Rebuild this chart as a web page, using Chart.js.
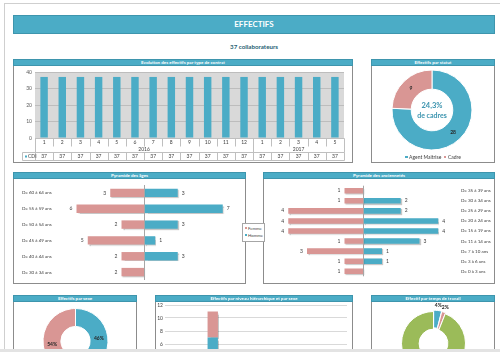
<!DOCTYPE html>
<html><head><meta charset="utf-8">
<script src="https://cdn.jsdelivr.net/npm/chart.js@4.4.1/dist/chart.umd.min.js"></script>
<style>
body{margin:0;width:500px;height:352px;overflow:hidden;position:relative;background:#fff;font-family:Lato,'Liberation Sans',sans-serif;}
.frame{position:absolute;left:4px;top:3px;width:496px;height:349px;border-top:1px solid #cfcfcf;border-left:1px solid #cfcfcf;box-sizing:border-box}
.header{position:absolute;left:13px;top:15px;width:482px;height:19px;background:#4BACC6;border:1px solid #3E95AD;box-sizing:border-box;color:#fff;font-weight:bold;font-size:8px;line-height:17px;text-align:center}
.sub{position:absolute;left:13px;width:482px;top:43px;font-size:6.2px;font-weight:bold;color:#1F5F73;text-align:center;line-height:8px}
.panel{position:absolute;border:1px solid #8C8C8C;box-sizing:border-box;background:#fff}
.ttl{position:absolute;left:-1px;right:-1px;top:-1px;height:7px;background:#4BACC6;border:1px solid #3E95AD;box-sizing:border-box;color:#fff;font-size:4.5px;font-weight:bold;line-height:5px;text-align:center;z-index:3;white-space:nowrap}
canvas{position:absolute;z-index:1}
.lgd{position:absolute;z-index:4;font-size:5px;color:#404040;white-space:nowrap}
.sq{display:inline-block;width:2.5px;height:2.5px;margin-right:1.5px;vertical-align:middle;position:relative;top:-0.5px}
.ctr{position:absolute;z-index:2;color:#3A93AE;font-weight:bold;text-align:center;white-space:nowrap}
.strip{position:absolute;left:0;top:349px;width:500px;height:3px;background:#E3E3E3;z-index:5}
</style></head>
<body>
<div class="frame"></div>
<div class="header">EFFECTIFS</div>
<div class="sub">37 collaborateurs</div>

<div class="panel" style="left:13px;top:59px;width:340px;height:104px"><div class="ttl">Evolution des effectifs par type de contrat</div></div>
<div class="panel" style="left:371px;top:59px;width:124px;height:104px"><div class="ttl">Effectifs par statut</div></div>
<div class="panel" style="left:13px;top:172px;width:233px;height:112px"><div class="ttl">Pyramide des âges</div></div>
<div class="panel" style="left:263px;top:172px;width:232px;height:112px"><div class="ttl">Pyramide des anciennetés</div></div>
<div class="panel" style="left:13px;top:295px;width:124px;height:120px"><div class="ttl">Effectifs par sexe</div></div>
<div class="panel" style="left:155px;top:295px;width:198px;height:120px"><div class="ttl">Effectifs par niveau hiérarchique et par sexe</div></div>
<div class="panel" style="left:371px;top:295px;width:124px;height:120px"><div class="ttl">Effectif par temps de travail</div></div>

<canvas id="c1" width="338" height="96" style="left:14px;top:66px"></canvas>
<canvas id="c2" width="122" height="96" style="left:372px;top:66px"></canvas>
<canvas id="c3" width="230" height="104" style="left:14px;top:179px"></canvas>
<canvas id="c4" width="230" height="104" style="left:264px;top:179px"></canvas>
<canvas id="c5" width="122" height="100" style="left:14px;top:302px"></canvas>
<canvas id="c6" width="196" height="100" style="left:156px;top:300px"></canvas>
<canvas id="c7" width="122" height="100" style="left:372px;top:302px"></canvas>

<div class="ctr" style="left:392px;width:80px;top:101px;font-size:7.5px;line-height:9px">24,3%</div>
<div class="ctr" style="left:392px;width:80px;top:111px;font-size:7px;line-height:9px">de cadres</div>
<div class="lgd" style="left:372px;width:122px;top:154px;text-align:center;line-height:6px"><span class="sq" style="background:#4BACC6"></span>Agent Maitrise&nbsp;&nbsp;<span class="sq" style="background:#D99694"></span>Cadre</div>
<div class="lgd" style="left:242px;top:223px;width:23px;height:19px;background:#fff;border:1px solid #A6A6A6;box-sizing:border-box;font-size:4.3px;line-height:8px;padding-left:1.5px;padding-top:1px"><div style="line-height:8px"><span class="sq" style="background:#D99694;width:2px;height:2px"></span>Femme</div><div style="line-height:8px;margin-top:-1px"><span class="sq" style="background:#4BACC6;width:2px;height:2px"></span>Homme</div></div>
<div class="strip"></div>

<script>
// ---------- DATA ----------
const monthLabels = ['1','2','3','4','5','6','7','8','9','10','11','12','1','2','3','4','5'];
const yearLabels = ['2016','2016','2016','2016','2016','2016','2016','2016','2016','2016','2016','2016','2017','2017','2017','2017','2017'];
const cdiCounts = [37,37,37,37,37,37,37,37,37,37,37,37,37,37,37,37,37];

const statutLabels = ['Agent Maitrise','Cadre'];
const statutCounts = [28, 9];

const ageLabels = ['De 60 à 64 ans','De 55 à 59 ans','De 50 à 54 ans','De 45 à 49 ans','De 40 à 44 ans','De 30 à 34 ans'];
const ageFemme = [3, 6, 2, 5, 2, 2];
const ageHomme = [3, 7, 3, 1, 3, 0];

const ancLabels = ['De 35 à 39 ans','De 30 à 34 ans','De 25 à 29 ans','De 20 à 24 ans','De 15 à 19 ans','De 11 à 14 ans','De 7 à 10 ans','De 3 à 6 ans','De 0 à 3 ans'];
const ancFemme = [1, 1, 4, 4, 4, 1, 3, 1, 1];
const ancHomme = [0, 2, 2, 4, 4, 3, 1, 1, 0];

const sexeLabels = ['Homme','Femme'];
const sexePct = [46, 54];

const niveauLabels = ['Niveau 1','Niveau 2'];
const niveauHomme = [7, null];
const niveauFemme = [4, null];

const tempsLabels = ['Temps partiel 1','Temps partiel 2','Temps plein'];
const tempsPct = [4, 2, 94];

// ---------- STYLE ----------
const TEAL = '#4BACC6', PINK = '#D99694', GREEN = '#9BBB59', TXT = '#404040';
const FAM = "Lato, 'Liberation Sans', sans-serif";
Chart.defaults.font.family = FAM;
Chart.defaults.color = TXT;
const base = {responsive:false, animation:false, events:[], plugins:{legend:{display:false}, tooltip:{enabled:false}}};

// ---------- PLUGINS ----------
const plotBg = {id:'plotBg', beforeDraw(c){const a=c.chartArea; c.ctx.save(); c.ctx.fillStyle='#D9D9D9'; c.ctx.fillRect(a.left,a.top,a.right-a.left,a.bottom-a.top); c.ctx.restore();}};

const tablePlugin = {
  id:'dataTable',
  afterDraw(chart){
    const {ctx, chartArea:a} = chart; const x = chart.scales.x;
    const n = monthLabels.length;
    const step = x.getPixelForValue(1) - x.getPixelForValue(0);
    const first = x.getPixelForValue(0) - step/2;
    const L = Math.round(first)+0.5, R = Math.round(first + n*step)+0.5;
    const y0 = Math.round(a.bottom)+0.5, y1 = y0+8, y2 = y1+6, y3 = y2+8;
    const cl = 8.5;
    ctx.save(); ctx.strokeStyle='#BFBFBF'; ctx.lineWidth=1; ctx.beginPath();
    ctx.moveTo(L,y0); ctx.lineTo(R,y0);
    for(let i=0;i<=n;i++){
      const xx = Math.round(first + i*step)+0.5;
      const grp = i===0 || i===n || yearLabels[i]!==yearLabels[i-1];
      ctx.moveTo(xx,y0); ctx.lineTo(xx, grp? y2 : y1);
      ctx.moveTo(xx,y2); ctx.lineTo(xx,y3);
    }
    ctx.moveTo(cl,y2); ctx.lineTo(R,y2);
    ctx.moveTo(cl,y3); ctx.lineTo(R,y3);
    ctx.moveTo(cl,y2); ctx.lineTo(cl,y3);
    ctx.stroke();
    ctx.fillStyle=TXT; ctx.font='5px '+FAM; ctx.textAlign='center'; ctx.textBaseline='middle';
    monthLabels.forEach((m,i)=>{const xx=x.getPixelForValue(i); ctx.fillText(m,xx,y0+4); ctx.fillText(String(cdiCounts[i]),xx,y2+4);});
    let s=0;
    for(let i=1;i<=n;i++){ if(i===n || yearLabels[i]!==yearLabels[s]){ const cx=(x.getPixelForValue(s)+x.getPixelForValue(i-1))/2; ctx.fillText(yearLabels[s],cx,y1+3); s=i; } }
    ctx.fillStyle=TEAL; ctx.fillRect(cl+2.5,y2+3,2,2);
    ctx.fillStyle=TXT; ctx.textAlign='left'; ctx.fillText(chart.data.datasets[0].label, cl+5.5, y2+4);
    ctx.restore();
  }
};

const shadow = {id:'shadow',
  beforeDatasetsDraw(c){c.ctx.save(); c.ctx.shadowColor='rgba(0,0,0,0.22)'; c.ctx.shadowOffsetX=1; c.ctx.shadowOffsetY=1; c.ctx.shadowBlur=1;},
  afterDatasetsDraw(c){c.ctx.restore();}};

const centerLine = {id:'centerLine', afterDatasetsDraw(c){
  const x = Math.round(c.scales.x.getPixelForValue(0))+0.5; const a=c.chartArea;
  c.ctx.save(); c.ctx.strokeStyle='#A6A6A6'; c.ctx.lineWidth=1; c.ctx.beginPath(); c.ctx.moveTo(x,a.top); c.ctx.lineTo(x,a.bottom); c.ctx.stroke(); c.ctx.restore();
}};

const pyrLabels = {id:'pyrLabels', afterDatasetsDraw(c){
  const ctx=c.ctx; ctx.save(); ctx.font='5px '+FAM; ctx.fillStyle=TXT; ctx.textBaseline='middle';
  c.data.datasets.forEach((ds,di)=>{ c.getDatasetMeta(di).data.forEach((el,i)=>{
    const v=ds.data[i]; if(!v) return; const t=String(Math.abs(v));
    if(v<0){ctx.textAlign='right'; ctx.fillText(t, el.x-4, el.y);} else {ctx.textAlign='left'; ctx.fillText(t, el.x+4, el.y);}
  });});
  ctx.restore();
}};

function arcLabels(fmt, outsideBelow){
  return {id:'arcLabels', afterDatasetsDraw(c){
    const ctx=c.ctx; ctx.save(); ctx.font='bold 5px '+FAM; ctx.fillStyle='#262626'; ctx.textAlign='center'; ctx.textBaseline='middle';
    const ds=c.data.datasets[0];
    c.getDatasetMeta(0).data.forEach((el,i)=>{
      const v=ds.data[i]; let px,py;
      if(outsideBelow && v<outsideBelow){
        const p=el.getProps(['x','y','startAngle','endAngle','outerRadius']);
        const m=(p.startAngle+p.endAngle)/2, r=p.outerRadius+6;
        px=p.x+Math.cos(m)*r; py=p.y+Math.sin(m)*r;
      } else { const tp=el.tooltipPosition(); px=tp.x; py=tp.y; }
      ctx.fillText(fmt(v), px, py);
    });
    ctx.restore();
  }};
}

// ---------- CHART 1 : evolution ----------
new Chart(document.getElementById('c1'), {
  type:'bar',
  data:{labels:monthLabels, datasets:[{label:'CDI', data:cdiCounts, backgroundColor:TEAL, barPercentage:0.41, categoryPercentage:1}]},
  options:{...base, layout:{padding:{left:0,right:8,top:6,bottom:24}},
    scales:{
      x:{display:false},
      y:{min:0,max:40,ticks:{stepSize:5,font:{size:5},color:'#595959',padding:3},grid:{color:'#BDBDBD',drawTicks:false},border:{display:false},afterFit(s){s.width=21;}}
    }},
  plugins:[plotBg, tablePlugin]
});

// ---------- CHART 2 : statut ----------
new Chart(document.getElementById('c2'), {
  type:'doughnut',
  data:{labels:statutLabels, datasets:[{data:statutCounts, backgroundColor:[TEAL,PINK], borderColor:'#fff', borderWidth:1}]},
  options:{...base, cutout:'52%', layout:{padding:{left:19.5,right:21.5,top:3.5,bottom:11.5}}},
  plugins:[arcLabels(v=>String(v))]
});

// ---------- CHART 3 : pyramide des ages ----------
new Chart(document.getElementById('c3'), {
  type:'bar',
  data:{labels:ageLabels, datasets:[
    {label:'Femme', data:ageFemme.map(v=>-v), backgroundColor:PINK, barPercentage:0.53, categoryPercentage:1},
    {label:'Homme', data:ageHomme, backgroundColor:TEAL, barPercentage:0.53, categoryPercentage:1}]},
  options:{...base, indexAxis:'y', layout:{padding:{left:8,right:10,top:6,bottom:3}},
    scales:{
      x:{display:false, stacked:true, min:-8, max:8},
      y:{stacked:true, grid:{display:false, drawTicks:false}, border:{display:false}, ticks:{crossAlign:'far', font:{size:4.5}, color:TXT, padding:0, autoSkip:false}, afterFit(s){s.width=32;}}
    }},
  plugins:[shadow, centerLine, pyrLabels]
});

// ---------- CHART 4 : pyramide des anciennetes ----------
new Chart(document.getElementById('c4'), {
  type:'bar',
  data:{labels:ancLabels, datasets:[
    {label:'Femme', data:ancFemme.map(v=>-v), backgroundColor:PINK, barPercentage:0.55, categoryPercentage:1},
    {label:'Homme', data:ancHomme, backgroundColor:TEAL, barPercentage:0.55, categoryPercentage:1}]},
  options:{...base, indexAxis:'y', layout:{padding:{left:5.5,right:0,top:5.6,bottom:0.6}},
    scales:{
      x:{display:false, stacked:true, min:-5, max:5},
      y:{position:'right', stacked:true, grid:{display:false, drawTicks:false}, border:{display:false}, ticks:{crossAlign:'near', font:{size:4.5}, color:TXT, padding:4, autoSkip:false}, afterFit(s){s.width=37;}}
    }},
  plugins:[shadow, centerLine, pyrLabels]
});

// ---------- CHART 5 : sexe ----------
new Chart(document.getElementById('c5'), {
  type:'doughnut',
  data:{labels:sexeLabels, datasets:[{data:sexePct, backgroundColor:[TEAL,PINK], borderColor:'#fff', borderWidth:1}]},
  options:{...base, cutout:'45%', layout:{padding:{left:28.5,right:27.5,top:6,bottom:28}}},
  plugins:[arcLabels(v=>v+'%')]
});

// ---------- CHART 6 : niveau hierarchique ----------
new Chart(document.getElementById('c6'), {
  type:'bar',
  data:{labels:niveauLabels, datasets:[
    {label:'Homme', data:niveauHomme, backgroundColor:TEAL, barPercentage:0.116, categoryPercentage:1},
    {label:'Femme', data:niveauFemme, backgroundColor:PINK, barPercentage:0.116, categoryPercentage:1}]},
  options:{...base, layout:{padding:{left:0,right:5,top:3,bottom:17}},
    scales:{
      x:{display:false, stacked:true},
      y:{stacked:true, min:0, max:12, ticks:{stepSize:2, font:{size:5}, color:TXT, padding:2}, grid:{color:'#D9D9D9', tickLength:3}, border:{display:false}, afterFit(s){s.width=12;}}
    }},
  plugins:[shadow]
});

// ---------- CHART 7 : temps de travail ----------
new Chart(document.getElementById('c7'), {
  type:'doughnut',
  data:{labels:tempsLabels, datasets:[{data:tempsPct, backgroundColor:[TEAL,PINK,GREEN], borderColor:'#fff', borderWidth:1, offset:[3,2,0]}]},
  options:{...base, cutout:'45%', layout:{padding:{left:27.5,right:26.5,top:7.5,bottom:24.5}}},
  plugins:[arcLabels(v=>v+'%', 10)]
});
</script>
</body></html>
